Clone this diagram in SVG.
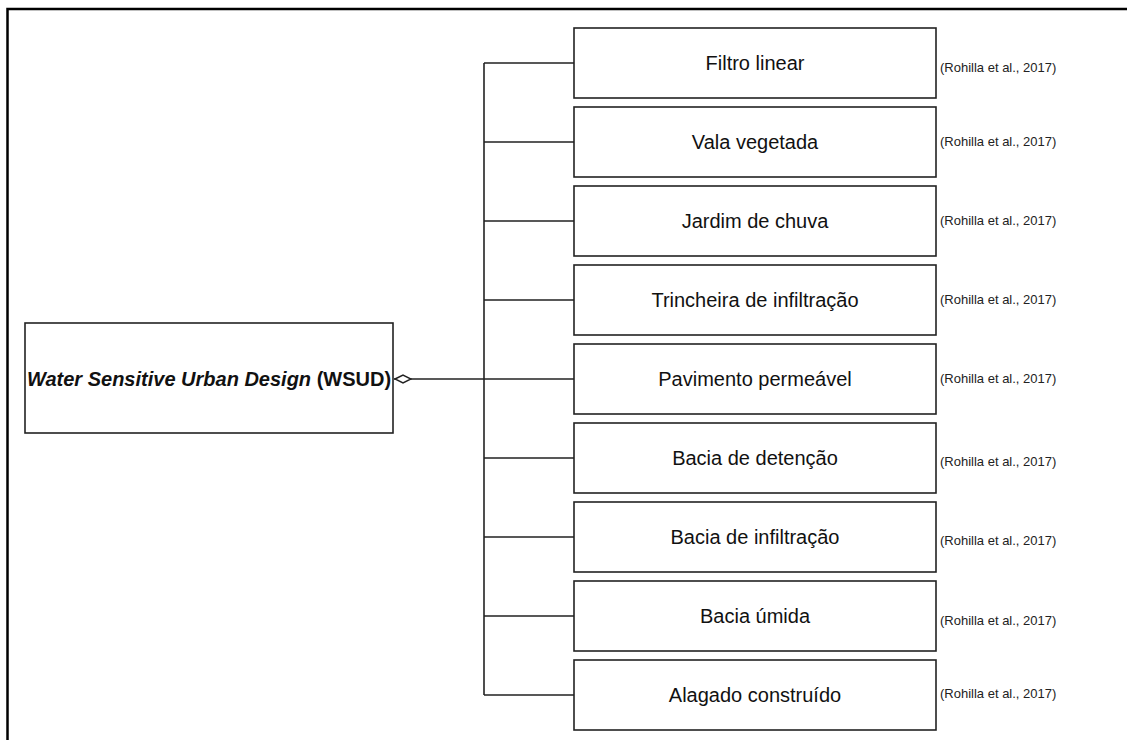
<svg xmlns="http://www.w3.org/2000/svg" width="1127" height="740" viewBox="0 0 1127 740">
<style>
.frame{fill:none;stroke:#000;stroke-width:2.5}
.box{fill:#fff;stroke:#222;stroke-width:1.6}
.conn{fill:none;stroke:#222;stroke-width:1.6}
.lbl{font-family:"Liberation Sans",Arial,sans-serif;font-size:20px;fill:#111;text-anchor:middle}
.main{font-family:"Liberation Sans",Arial,sans-serif;font-size:20px;font-weight:bold;fill:#111;text-anchor:middle}
.ref{font-family:"Liberation Sans",Arial,sans-serif;font-size:13px;fill:#222}
</style>
<defs>
<marker id="diamond" markerWidth="18" markerHeight="10" refX="0" refY="5" orient="auto" markerUnits="userSpaceOnUse">
<path d="M1,5 L9,1 L17,5 L9,9 Z" fill="#fff" stroke="#222" stroke-width="1.5"/>
</marker>
</defs>
<rect width="1127" height="740" fill="#fff"/>
<path class="frame" d="M7.5,740 V9 H1127"/>
<g id="connectors">
<path class="conn" d="M394,379 H574" marker-start="url(#diamond)"/>
<path class="conn" d="M484,63 V695"/>
<path class="conn" d="M484,63 H574 M484,142 H574 M484,221 H574 M484,300 H574 M484,458 H574 M484,537 H574 M484,616 H574 M484,695 H574"/>
</g>
<g id="wsud">
<rect class="box" x="25" y="323" width="368" height="110"/>
<text class="main" x="209" y="386"><tspan font-style="italic">Water Sensitive Urban Design</tspan> (WSUD)</text>
</g>
<g id="n1"><rect class="box" x="574" y="28" width="362" height="70"/><text class="lbl" x="755" y="70">Filtro linear</text><text class="ref" x="940" y="72">(Rohilla et al., 2017)</text></g>
<g id="n2"><rect class="box" x="574" y="107" width="362" height="70"/><text class="lbl" x="755" y="149">Vala vegetada</text><text class="ref" x="940" y="146">(Rohilla et al., 2017)</text></g>
<g id="n3"><rect class="box" x="574" y="186" width="362" height="70"/><text class="lbl" x="755" y="228">Jardim de chuva</text><text class="ref" x="940" y="225">(Rohilla et al., 2017)</text></g>
<g id="n4"><rect class="box" x="574" y="265" width="362" height="70"/><text class="lbl" x="755" y="307">Trincheira de infiltração</text><text class="ref" x="940" y="304">(Rohilla et al., 2017)</text></g>
<g id="n5"><rect class="box" x="574" y="344" width="362" height="70"/><text class="lbl" x="755" y="386">Pavimento permeável</text><text class="ref" x="940" y="383">(Rohilla et al., 2017)</text></g>
<g id="n6"><rect class="box" x="574" y="423" width="362" height="70"/><text class="lbl" x="755" y="465">Bacia de detenção</text><text class="ref" x="940" y="466">(Rohilla et al., 2017)</text></g>
<g id="n7"><rect class="box" x="574" y="502" width="362" height="70"/><text class="lbl" x="755" y="544">Bacia de infiltração</text><text class="ref" x="940" y="545">(Rohilla et al., 2017)</text></g>
<g id="n8"><rect class="box" x="574" y="581" width="362" height="70"/><text class="lbl" x="755" y="623">Bacia úmida</text><text class="ref" x="940" y="625">(Rohilla et al., 2017)</text></g>
<g id="n9"><rect class="box" x="574" y="660" width="362" height="70"/><text class="lbl" x="755" y="702">Alagado construído</text><text class="ref" x="940" y="698">(Rohilla et al., 2017)</text></g>
</svg>
